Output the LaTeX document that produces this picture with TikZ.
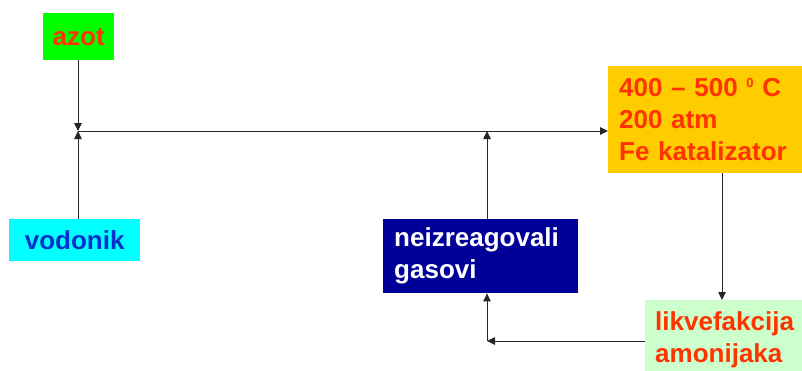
\documentclass[tikz,border=0pt]{standalone}
\usepackage{fontspec}
\setmainfont{Liberation Sans}
\usetikzlibrary{arrows.meta}
\definecolor{azotgreen}{HTML}{00FF00}
\definecolor{vodcyan}{HTML}{00FFFF}
\definecolor{navybox}{HTML}{000099}
\definecolor{orangebox}{HTML}{FFCC00}
\definecolor{lightgreen}{HTML}{CCFFCC}
\definecolor{txtred}{HTML}{FF3300}
\definecolor{vodblue}{HTML}{0033CC}
\begin{document}
\begin{tikzpicture}[x=1pt,y=-1pt,
  box/.style={rectangle, inner sep=0pt, anchor=north west,
    font=\bfseries\fontsize{26}{32}\selectfont},
  leftbox/.style={box, align=left},
  arr/.style={draw=black!85, line width=0.9pt, -{Triangle[length=8pt,width=7.5pt]}}]
\useasboundingbox (0,0) rectangle (802,370);
\clip (0,0) rectangle (802,370);
\fill[white] (0,0) rectangle (802,370);

\node[box, fill=azotgreen, text=txtred, minimum width=71pt, minimum height=47pt] (azot) at (43,13) {azot};
\node[box, fill=vodcyan, text=vodblue, minimum width=131pt, minimum height=42pt] (vod) at (9,219) {vodonik};
\node[leftbox, fill=navybox, text=white, inner xsep=11pt, text width=173pt, minimum height=74pt] (neiz) at (383,219) {neizreagovali\\gasovi};
\node[leftbox, fill=orangebox, text=txtred, inner xsep=11pt, text width=180pt, minimum height=107pt] (reak) at (608,66) {400 -- 500 \raisebox{9pt}{\fontsize{13}{13}\selectfont 0} C\\200 atm\\Fe katalizator};
\node[leftbox, fill=lightgreen, text=txtred, inner xsep=10pt, inner ysep=11pt, text width=150pt] (likv) at (645,300) {likvefakcija\\amonijaka};

\coordinate (J) at (78,131);
\coordinate (K) at (487,131);
\coordinate (D) at (722,0);
\coordinate (B) at (487,341);

\draw[arr] (J |- azot.south) -- (J);
\draw[arr] (J |- vod.north) -- (J);
\draw[arr] (J) -- (J -| reak.west);
\draw[arr] (K |- neiz.north) -- (K);
\draw[arr] (D |- reak.south) -- (D |- likv.north);
\draw[arr] (B -| likv.west) -- (B);
\draw[arr] (B) -- (B |- neiz.south);
\end{tikzpicture}
\end{document}
